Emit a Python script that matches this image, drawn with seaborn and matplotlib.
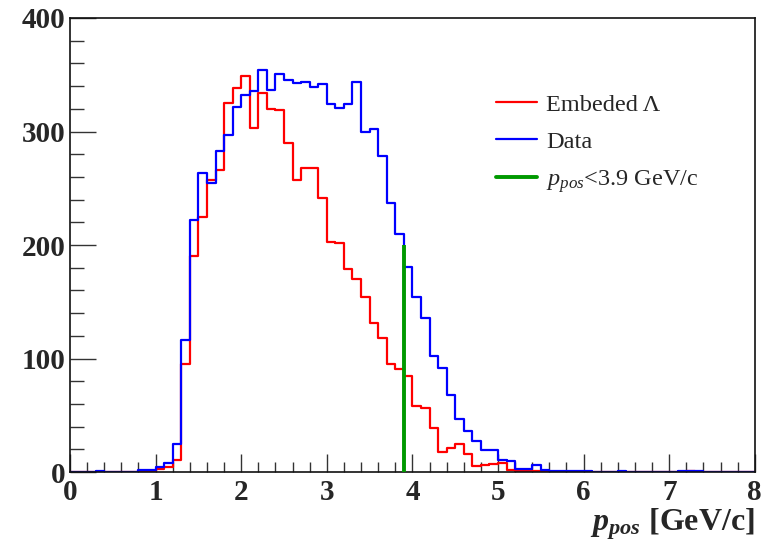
import numpy as np
import pandas as pd
import matplotlib
matplotlib.use("Agg")
import matplotlib.pyplot as plt
from matplotlib.ticker import MultipleLocator
from matplotlib.lines import Line2D
import seaborn as sns

# Histogram binning: 80 bins of 0.1 GeV/c between 0 and 8
bin_width = 0.1
p_range = (0.0, 8.0)

# Entries per bin, embedded Lambda sample
embedded_counts = [
    0, 0, 0, 0, 0, 0, 0, 0, 1, 1,
    3, 4, 11, 95, 190, 225, 257, 266, 325, 338,
    349, 303, 334, 320, 319, 290, 257, 268, 268, 241,
    203, 202, 179, 170, 154, 131, 118, 95, 91, 85,
    58, 56, 39, 18, 21, 25, 16, 5, 6, 7,
    8, 2, 1, 1, 1, 1, 0, 0, 0, 0,
    0, 0, 0, 0, 0, 0, 0, 0, 0, 0,
    0, 0, 1, 0, 0, 0, 0, 0, 0, 0,
]

# Entries per bin, real data
data_counts = [
    0, 0, 0, 1, 0, 0, 0, 0, 2, 2,
    4, 8, 25, 116, 222, 263, 255, 283, 297, 322,
    332, 336, 354, 337, 351, 345, 343, 344, 339, 342,
    324, 321, 324, 344, 300, 302, 278, 237, 210, 181,
    154, 136, 102, 92, 68, 47, 36, 27, 19, 19,
    11, 10, 3, 3, 6, 2, 1, 1, 1, 1,
    1, 0, 0, 0, 1, 0, 0, 0, 0, 0,
    0, 1, 1, 1, 0, 0, 0, 0, 0, 0,
]

# Momentum cut marker
cut_value = 3.9
cut_height = 200

series_labels = ["Embeded \u039b", "Data"]
cut_label = r"$p_{pos}$<3.9 GeV/c"
x_label = r"$\mathbfit{p}_{\mathbfit{pos}}$ [GeV/c]"

n_bins = len(data_counts)
bin_centers = p_range[0] + bin_width * (np.arange(n_bins) + 0.5)

sns.set_style("ticks")
plt.rcParams["font.family"] = ["Liberation Serif", "DejaVu Serif"]
plt.rcParams["mathtext.fontset"] = "custom"
plt.rcParams["mathtext.rm"] = "Liberation Serif"
plt.rcParams["mathtext.it"] = "Liberation Serif:italic"
plt.rcParams["mathtext.bf"] = "Liberation Serif:bold"
plt.rcParams["mathtext.bfit"] = "Liberation Serif:italic:bold"

fig = plt.figure(figsize=(7.71, 5.52), dpi=100)
ax = fig.add_axes([0.0908, 0.1449, 0.8882, 0.8225])

series = [(series_labels[0], embedded_counts, "#ff0000"),
          (series_labels[1], data_counts, "#0000ff")]
for name, counts, color in series:
    sub = pd.DataFrame({"p": bin_centers, "count": np.asarray(counts, dtype=float)})
    sns.histplot(data=sub, x="p", weights="count", binwidth=bin_width,
                 binrange=p_range, element="step", fill=False, color=color,
                 linewidth=1.6, ax=ax)

ax.vlines(cut_value, 0, cut_height, color="#009900", linewidth=2.8, zorder=5)

ax.set_xlim(*p_range)
ax.set_ylim(0, 400)
ax.xaxis.set_major_locator(MultipleLocator(1))
ax.xaxis.set_minor_locator(MultipleLocator(0.2))
ax.yaxis.set_major_locator(MultipleLocator(100))
ax.yaxis.set_minor_locator(MultipleLocator(20))
ax.tick_params(axis="both", which="both", direction="in", top=False, right=False,
               width=1.0, color="#333333")
ax.tick_params(axis="x", which="major", length=13, pad=5)
ax.tick_params(axis="x", which="minor", length=7)
ax.tick_params(axis="y", which="major", length=19, pad=3)
ax.tick_params(axis="y", which="minor", length=10)
for lab in ax.get_xticklabels() + ax.get_yticklabels():
    lab.set_fontsize(21)
    lab.set_fontweight("bold")
for sp in ax.spines.values():
    sp.set_linewidth(1.2)
    sp.set_color("#111111")

ax.set_ylabel("")
ax.set_xlabel(x_label, loc="right", fontsize=23, fontweight="bold", labelpad=0)

leg_handles = [
    Line2D([], [], color="#ff0000", linewidth=1.6),
    Line2D([], [], color="#0000ff", linewidth=1.6),
    Line2D([], [], color="#009900", linewidth=2.8),
]
ax.legend(leg_handles, [series_labels[0], series_labels[1], cut_label],
          loc="upper left", bbox_to_anchor=(0.608, 0.855), frameon=False,
          fontsize=17.5, handlelength=1.7, handletextpad=0.35, labelspacing=0.62,
          borderaxespad=0)

fig.savefig("out.png", dpi=100)
